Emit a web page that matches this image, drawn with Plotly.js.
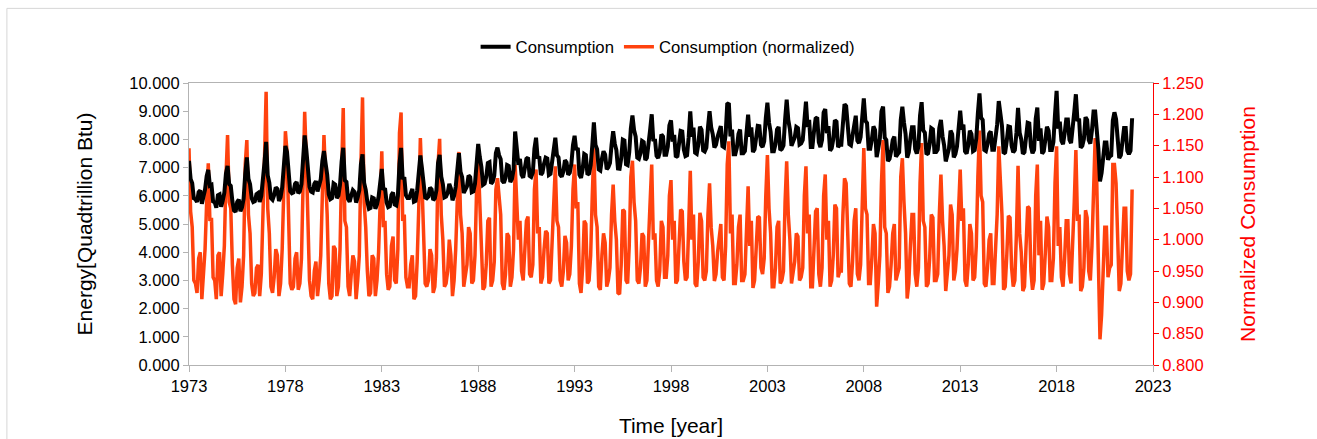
<!DOCTYPE html>
<html>
<head>
<meta charset="utf-8">
<script src="https://cdn.plot.ly/plotly-3.0.1.min.js"></script>
<style>
  html, body { margin: 0; padding: 0; background: #ffffff; }
  #chart { width: 1317px; height: 439px; }
</style>
</head>
<body>
<div id="chart"></div>
<script>
// Years of monthly data (Jan..Dec per row)
const years = [1973,1974,1975,1976,1977,1978,1979,1980,1981,1982,1983,1984,1985,1986,1987,1988,1989,1990,1991,1992,1993,1994,1995,1996,1997,1998,1999,2000,2001,2002,2003,2004,2005,2006,2007,2008,2009,2010,2011,2012,2013,2014,2015,2016,2017,2018,2019,2020,2021];

// Consumption, quadrillion Btu, monthly (Jan..Dec) per year
const consumption = [
  [7.24,6.60,6.45,5.91,5.88,5.78,6.13,6.19,5.72,5.94,6.23,6.70],
  [6.92,6.36,6.39,5.80,5.77,5.58,6.02,6.05,5.61,5.83,6.11,6.79],
  [7.06,6.41,6.35,5.81,5.48,5.43,5.78,5.87,5.45,5.60,5.90,6.78],
  [7.36,6.60,6.41,5.91,5.78,5.81,6.06,6.10,5.78,6.00,6.48,7.18],
  [7.91,6.72,6.46,5.92,5.86,6.02,6.30,6.24,5.82,5.95,6.30,7.04],
  [7.77,7.55,6.75,6.16,6.09,6.12,6.42,6.49,6.09,6.16,6.42,7.22],
  [8.14,7.64,6.90,6.32,6.15,6.12,6.42,6.52,6.15,6.32,6.59,7.23],
  [7.59,7.15,6.76,6.05,5.88,5.92,6.44,6.40,5.92,6.01,6.40,7.22],
  [7.70,6.55,6.49,5.88,5.79,6.01,6.20,6.14,5.76,5.95,6.20,7.12],
  [7.47,6.46,6.21,5.79,5.54,5.57,5.94,5.91,5.54,5.69,5.97,6.46],
  [6.95,6.21,6.27,5.76,5.60,5.63,6.03,6.12,5.69,5.66,6.00,7.13],
  [7.70,6.59,6.66,6.02,5.92,5.92,6.14,6.24,5.79,5.82,6.18,6.72],
  [7.43,6.97,6.39,5.94,5.91,5.97,6.29,6.23,5.85,5.91,6.20,7.16],
  [7.45,6.68,6.42,5.94,5.97,6.10,6.42,6.26,5.84,6.00,6.32,7.00],
  [7.51,6.85,6.66,6.10,6.19,6.33,6.72,6.66,6.13,6.16,6.43,7.12],
  [7.84,7.37,7.02,6.39,6.43,6.67,7.16,7.19,6.43,6.50,6.71,7.51],
  [7.71,7.44,7.30,6.53,6.46,6.63,7.09,7.06,6.49,6.60,6.91,8.28],
  [7.46,7.10,7.31,6.75,6.64,6.92,7.31,7.36,6.71,6.67,6.82,7.67],
  [8.06,7.32,7.40,6.74,6.82,7.14,7.35,7.32,6.74,6.78,7.18,7.69],
  [8.06,7.44,7.36,6.75,6.68,6.86,7.26,7.18,6.75,6.82,7.15,7.80],
  [8.13,7.62,7.70,6.75,6.64,6.93,7.48,7.44,6.75,6.79,7.08,7.77],
  [8.60,7.80,7.65,6.94,6.90,7.31,7.58,7.46,6.94,7.01,7.16,7.80],
  [8.29,7.85,7.62,6.97,6.96,7.32,7.99,7.96,7.12,7.09,7.54,8.38],
  [8.85,8.33,8.10,7.35,7.31,7.51,7.94,7.90,7.27,7.35,7.74,8.33],
  [8.89,7.94,8.02,7.42,7.34,7.54,8.18,8.10,7.46,7.46,7.74,8.50],
  [8.67,7.92,8.16,7.37,7.41,7.84,8.30,8.28,7.64,7.41,7.44,8.08],
  [8.99,8.10,8.42,7.53,7.49,7.82,8.45,8.34,7.61,7.57,7.70,8.42],
  [9.00,8.43,8.18,7.71,7.81,8.09,8.34,8.47,7.76,7.72,8.18,9.25],
  [9.29,8.11,8.35,7.47,7.47,7.71,8.19,8.35,7.51,7.51,7.59,8.35],
  [8.88,8.10,8.43,7.55,7.65,8.06,8.48,8.47,7.81,7.73,7.93,8.75],
  [9.30,8.60,8.27,7.58,7.58,7.82,8.35,8.44,7.62,7.66,7.78,8.68],
  [9.41,8.69,8.36,7.77,7.90,8.07,8.44,8.40,7.82,7.86,7.98,8.95],
  [9.34,8.44,8.69,7.73,7.73,8.28,8.74,8.78,7.90,7.73,7.98,8.95],
  [9.07,8.22,8.47,7.60,7.69,8.01,8.68,8.63,7.73,7.81,7.81,8.55],
  [9.25,9.18,8.59,7.83,7.79,8.13,8.67,8.84,7.96,7.87,8.08,8.93],
  [9.45,8.66,8.58,7.67,7.67,8.00,8.46,8.33,7.37,7.67,8.04,8.99],
  [9.16,8.06,7.98,7.23,7.31,7.58,7.98,8.10,7.39,7.47,7.54,8.69],
  [9.16,8.60,8.19,7.35,7.54,8.03,8.43,8.43,7.66,7.50,7.75,8.84],
  [9.32,8.32,8.24,7.47,7.51,7.84,8.40,8.36,7.55,7.55,7.64,8.40],
  [8.69,8.11,7.79,7.22,7.44,7.67,8.31,8.18,7.36,7.48,7.75,8.34],
  [9.02,8.35,8.52,7.58,7.50,7.79,8.31,8.19,7.58,7.62,8.03,8.92],
  [9.63,8.77,8.69,7.63,7.59,7.83,8.20,8.28,7.63,7.63,8.08,8.53],
  [9.36,8.97,8.48,7.50,7.54,7.95,8.46,8.44,7.78,7.54,7.62,8.23],
  [9.12,8.24,8.00,7.49,7.55,8.08,8.59,8.57,7.75,7.51,7.63,8.73],
  [9.13,7.95,8.39,7.50,7.58,7.99,8.45,8.31,7.62,7.62,7.91,8.88],
  [9.72,8.38,8.63,7.95,7.83,8.21,8.71,8.71,7.99,7.87,8.33,8.97],
  [9.60,8.65,8.74,7.71,7.77,8.02,8.79,8.69,7.98,7.85,8.32,8.99],
  [8.99,8.44,7.66,6.51,6.81,7.35,7.89,7.89,7.28,7.39,7.43,8.67],
  [8.96,8.72,7.92,7.34,7.44,7.92,8.40,8.40,7.60,7.48,7.60,8.75]
];

// Normalized consumption, monthly (Jan..Dec) per year
const normalized = [
  [1.146,1.045,1.020,0.935,0.930,0.915,0.970,0.980,0.905,0.940,0.985,1.060],
  [1.122,1.030,1.035,0.940,0.935,0.905,0.975,0.980,0.910,0.945,0.990,1.100],
  [1.167,1.060,1.050,0.960,0.905,0.897,0.955,0.970,0.900,0.925,0.975,1.120],
  [1.159,1.040,1.010,0.930,0.910,0.915,0.955,0.960,0.910,0.945,1.020,1.130],
  [1.236,1.050,1.010,0.925,0.915,0.940,0.985,0.975,0.910,0.930,0.985,1.100],
  [1.173,1.140,1.020,0.930,0.920,0.925,0.970,0.980,0.920,0.930,0.970,1.090],
  [1.204,1.130,1.020,0.935,0.910,0.905,0.950,0.965,0.910,0.935,0.975,1.070],
  [1.167,1.100,1.040,0.930,0.905,0.910,0.990,0.985,0.910,0.925,0.985,1.110],
  [1.210,1.030,1.020,0.925,0.910,0.945,0.975,0.965,0.905,0.935,0.975,1.120],
  [1.227,1.060,1.020,0.950,0.910,0.915,0.975,0.970,0.910,0.935,0.980,1.060],
  [1.141,1.020,1.030,0.945,0.920,0.925,0.990,1.005,0.935,0.930,0.985,1.170],
  [1.203,1.030,1.040,0.940,0.925,0.925,0.960,0.975,0.905,0.910,0.965,1.050],
  [1.162,1.090,1.000,0.930,0.925,0.935,0.985,0.975,0.915,0.925,0.970,1.120],
  [1.161,1.040,1.000,0.925,0.930,0.950,1.000,0.975,0.910,0.935,0.985,1.090],
  [1.140,1.040,1.010,0.925,0.940,0.960,1.020,1.010,0.930,0.935,0.975,1.080],
  [1.128,1.060,1.010,0.920,0.925,0.960,1.030,1.035,0.925,0.935,0.965,1.080],
  [1.098,1.060,1.040,0.930,0.920,0.945,1.010,1.005,0.925,0.940,0.985,1.120],
  [1.050,1.000,1.030,0.950,0.935,0.975,1.030,1.037,0.945,0.940,0.960,1.080],
  [1.112,1.010,1.020,0.930,0.940,0.985,1.014,1.010,0.930,0.935,0.990,1.060],
  [1.117,1.030,1.020,0.935,0.925,0.950,1.006,0.995,0.935,0.945,0.990,1.080],
  [1.120,1.050,1.060,0.930,0.915,0.955,1.030,1.025,0.930,0.935,0.975,1.070],
  [1.146,1.040,1.020,0.925,0.920,0.975,1.010,0.995,0.925,0.935,0.955,1.040],
  [1.088,1.030,1.000,0.915,0.913,0.960,1.048,1.045,0.935,0.930,0.990,1.100],
  [1.126,1.060,1.030,0.935,0.930,0.955,1.010,1.005,0.925,0.935,0.985,1.060],
  [1.120,1.000,1.010,0.935,0.925,0.950,1.030,1.020,0.940,0.940,0.975,1.070],
  [1.095,1.000,1.030,0.930,0.935,0.990,1.048,1.045,0.965,0.935,0.940,1.020],
  [1.110,1.000,1.040,0.930,0.925,0.965,1.043,1.030,0.940,0.935,0.950,1.040],
  [1.090,1.020,0.990,0.934,0.945,0.980,1.010,1.025,0.940,0.935,0.990,1.120],
  [1.157,1.010,1.040,0.930,0.930,0.960,1.020,1.040,0.935,0.935,0.945,1.040],
  [1.085,0.990,1.030,0.923,0.935,0.985,1.037,1.035,0.955,0.945,0.970,1.070],
  [1.135,1.050,1.010,0.925,0.925,0.955,1.020,1.030,0.930,0.935,0.950,1.060],
  [1.125,1.040,1.000,0.930,0.945,0.965,1.010,1.005,0.935,0.940,0.955,1.070],
  [1.117,1.010,1.040,0.925,0.925,0.990,1.045,1.050,0.945,0.925,0.955,1.070],
  [1.104,1.000,1.030,0.925,0.935,0.975,1.056,1.050,0.940,0.950,0.950,1.040],
  [1.098,1.090,1.020,0.930,0.925,0.965,1.030,1.050,0.945,0.935,0.960,1.060],
  [1.146,1.050,1.040,0.930,0.930,0.970,1.025,1.010,0.893,0.930,0.975,1.090],
  [1.159,1.020,1.010,0.915,0.925,0.960,1.010,1.025,0.935,0.945,0.955,1.100],
  [1.130,1.060,1.010,0.906,0.930,0.990,1.040,1.040,0.945,0.925,0.955,1.090],
  [1.154,1.030,1.020,0.925,0.930,0.970,1.040,1.035,0.935,0.935,0.945,1.040],
  [1.104,1.030,0.990,0.918,0.945,0.975,1.056,1.040,0.935,0.950,0.985,1.060],
  [1.112,1.030,1.050,0.935,0.925,0.960,1.025,1.010,0.935,0.940,0.990,1.100],
  [1.174,1.070,1.060,0.930,0.925,0.955,1.000,1.010,0.930,0.930,0.985,1.040],
  [1.149,1.100,1.040,0.920,0.925,0.975,1.038,1.035,0.955,0.925,0.935,1.010],
  [1.118,1.010,0.980,0.918,0.925,0.990,1.053,1.050,0.950,0.920,0.935,1.070],
  [1.120,0.975,1.030,0.920,0.930,0.980,1.037,1.020,0.935,0.935,0.970,1.090],
  [1.149,0.990,1.020,0.940,0.925,0.970,1.030,1.030,0.945,0.930,0.985,1.060],
  [1.143,1.030,1.040,0.918,0.925,0.955,1.047,1.035,0.950,0.935,0.990,1.070],
  [1.162,1.090,0.990,0.841,0.880,0.950,1.020,1.020,0.940,0.955,0.960,1.120],
  [1.120,1.090,0.990,0.918,0.930,0.990,1.050,1.050,0.950,0.935,0.945,1.080]
];

const xTickYears = [1973,1978,1983,1988,1993,1998,2003,2008,2013,2018,2023];
const seriesNames = ['Consumption', 'Consumption (normalized)'];

// Build monthly time positions (decimal years) from the year list
const xs = [], cons = [], norm = [];
years.forEach((yr, i) => {
  for (let m = 0; m < 12; m++) {
    xs.push(yr + m / 12);
    cons.push(consumption[i][m]);
    norm.push(normalized[i][m]);
  }
});

const traceNorm = {
  x: xs, y: norm, type: 'scatter', mode: 'lines',
  name: seriesNames[1], yaxis: 'y', legendrank: 2,
  line: { color: '#ff420e', width: 3.5 }
};
const traceCons = {
  x: xs, y: cons, type: 'scatter', mode: 'lines',
  name: seriesNames[0], yaxis: 'y2', legendrank: 1,
  line: { color: '#000000', width: 4 }
};

const gray = '#b3b3b3';
const layout = {
  width: 1317, height: 439,
  margin: { l: 189, r: 164, t: 83, b: 74, pad: 0 },
  paper_bgcolor: '#ffffff', plot_bgcolor: '#ffffff',
  font: { family: 'Liberation Sans, Arial, sans-serif', size: 16, color: '#000000' },
  showlegend: true,
  legend: {
    orientation: 'h', x: 0.497, xanchor: 'center', y: 1.128, yanchor: 'middle',
    font: { size: 16.7, color: '#000000' }, bgcolor: 'rgba(0,0,0,0)'
  },
  xaxis: {
    range: [1973, 2023], tickvals: xTickYears, ticktext: xTickYears.map(String),
    ticks: 'outside', ticklen: 6, tickcolor: gray, tickwidth: 1,
    showline: true, linecolor: gray, linewidth: 1, mirror: true,
    showgrid: false, zeroline: false, automargin: false,
    tickfont: { size: 16.5, color: '#000000' },
    title: { text: 'Time [year]', font: { size: 21, color: '#000000' }, standoff: 24 }
  },
  yaxis: {
    side: 'right', range: [0.8, 1.25], tick0: 0.8, dtick: 0.05, tickformat: '.3f',
    ticks: 'outside', ticklen: 5, tickcolor: '#ff0000', tickwidth: 1,
    showline: true, linecolor: '#ff0000', linewidth: 1,
    showgrid: false, zeroline: false, automargin: false,
    tickfont: { size: 16.5, color: '#ff0000' },
    title: { text: 'Normalized Consumption', font: { size: 21, color: '#ff0000' }, standoff: 37 }
  },
  yaxis2: {
    overlaying: 'y', side: 'left', range: [0, 10], tick0: 0, dtick: 1, tickformat: '.3f',
    ticks: 'outside', ticklen: 5, tickcolor: gray, tickwidth: 1,
    showline: true, linecolor: gray, linewidth: 1,
    showgrid: false, zeroline: false, automargin: false,
    tickfont: { size: 16.5, color: '#000000' },
    title: { text: 'Energy[Quadtrillion Btu)', font: { size: 21, color: '#000000' }, standoff: 30 }
  },
  shapes: [{
    type: 'rect', xref: 'paper', yref: 'paper',
    x0: -0.1889, x1: 1.25, y0: -0.3, y1: 1.2646,
    line: { color: '#d6d6d6', width: 1 }, fillcolor: 'rgba(0,0,0,0)', layer: 'below'
  }]
};

Plotly.newPlot('chart', [traceNorm, traceCons], layout, { displayModeBar: false, staticPlot: true });
</script>
</body>
</html>
